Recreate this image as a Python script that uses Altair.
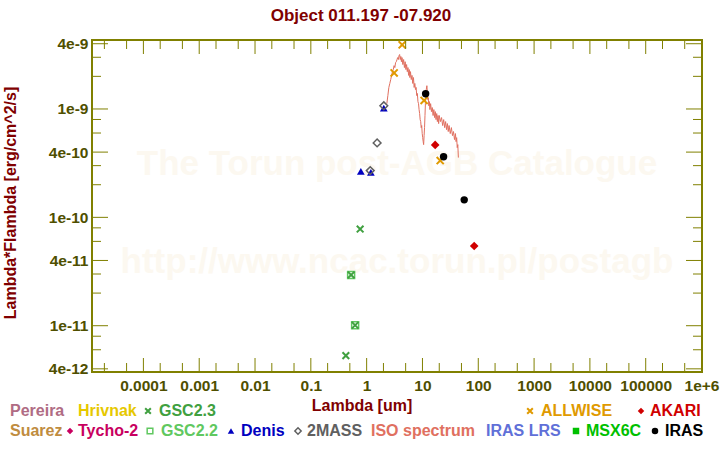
import altair as alt
import pandas as pd

# ---------------- text ----------------
title_text = "Object 011.197 -07.920"
x_title = "Lambda [um]"
y_title = "Lambda*Flambda [erg/cm^2/s]"
watermark_lines = ["The Torun post-AGB Catalogue", "http://www.ncac.torun.pl/postagb"]

# ---------------- ticks ----------------
x_tick_labels = [1e-4, 1e-3, 1e-2, 0.1, 1, 10, 100, 1000, 1e4, 1e5, 1e6]
x_minor_ticks = [2e-5, 5e-5, 2e-4, 5e-4, 2e-3, 5e-3, 2e-2, 5e-2, 0.2, 0.5, 2, 5,
                 20, 50, 200, 500, 2000, 5000, 2e4, 5e4, 2e5, 5e5]
y_tick_labels = [4e-12, 1e-11, 4e-11, 1e-10, 4e-10, 1e-9, 4e-9]
y_minor_ticks = [6e-12, 8e-12, 2e-11, 3e-11, 6e-11, 8e-11, 2e-10, 3e-10,
                 6e-10, 8e-10, 2e-9, 3e-9]

# ---------------- data ----------------
gsc23_lam = [0.424, 0.527, 0.622, 0.765]
gsc23_flux = [5.3e-12, 2.94e-11, 1.01e-11, 7.8e-11]
gsc22_lam = [0.527, 0.622]
gsc22_flux = [2.94e-11, 1.01e-11]
denis_lam = [0.787, 1.19, 2.03]
denis_flux = [2.66e-10, 2.60e-10, 1.02e-9]
twomass_lam = [1.16, 1.54, 2.03]
twomass_flux = [2.70e-10, 4.86e-10, 1.07e-9]
allwise_lam = [3.11, 4.33, 10.7, 20.8]
allwise_flux = [2.15e-9, 3.91e-9, 1.20e-9, 3.34e-10]
iras_lam = [11.4, 23.9, 56.0]
iras_flux = [1.38e-9, 3.63e-10, 1.45e-10]
akari_lam = [16.9, 84.5]
akari_flux = [4.66e-10, 5.44e-11]

iso_lam = [2.3, 2.4, 2.5, 2.6, 2.7, 2.8, 2.9, 3.0, 3.1, 3.2, 3.3, 3.4, 3.5, 3.6, 3.7,
           3.8, 3.9, 4.0, 4.1, 4.2, 4.3, 4.45, 4.6, 4.75, 4.9, 5.05, 5.2, 5.35, 5.5,
           5.65, 5.8, 5.95, 6.1, 6.3, 6.5, 6.7, 6.9, 7.1, 7.3, 7.5, 7.7, 7.9, 8.1,
           8.3, 8.5, 8.7, 8.9, 9.1, 9.3, 9.5, 9.7, 9.9, 10.1, 10.3, 10.5, 10.7, 10.9,
           11.1, 11.3, 11.5, 11.7, 12.0, 12.2, 12.5, 12.7, 13.0, 13.3, 13.6, 14.0,
           14.5, 15.0, 15.5, 16.0, 16.5, 17.0, 17.5, 18.0, 18.5, 19.0, 19.5, 20.0,
           21.0, 22.0, 23.0, 24.0, 25.0, 26.0, 27.0, 28.0, 29.0, 30.0, 31.5, 33.0,
           34.5, 36.0, 37.5, 39.0, 40.0, 41.0, 42.0, 43.0, 44.0]
iso_flux = [11.2e-10, 13.3e-10, 15.8e-10, 17.2e-10, 18.7e-10, 20.4e-10, 22.1e-10,
            23.1e-10, 25.1e-10, 24.1e-10, 26.8e-10, 27.3e-10, 28.6e-10, 29.8e-10,
            28.6e-10, 31.0e-10, 31.8e-10, 28.6e-10, 30.5e-10, 27.3e-10, 29.8e-10,
            25.7e-10, 28.6e-10, 24.1e-10, 27.3e-10, 23.1e-10, 25.7e-10, 22.1e-10,
            24.1e-10, 20.4e-10, 23.1e-10, 19.5e-10, 22.1e-10, 18.7e-10, 20.4e-10,
            17.2e-10, 19.5e-10, 15.8e-10, 17.2e-10, 15.1e-10, 15.8e-10, 13.3e-10,
            13.9e-10, 11.7e-10, 11.2e-10, 9.87e-10, 9.07e-10, 7.98e-10, 7.65e-10,
            6.73e-10, 7.03e-10, 5.93e-10, 5.44e-10, 5.00e-10, 4.69e-10, 5.68e-10,
            6.73e-10, 8.70e-10, 11.2e-10, 13.3e-10, 15.1e-10, 16.4e-10, 14.5e-10,
            12.2e-10, 12.7e-10, 10.7e-10, 11.7e-10, 9.87e-10, 11.2e-10, 9.45e-10,
            10.3e-10, 8.70e-10, 9.87e-10, 8.33e-10, 9.45e-10, 7.98e-10, 9.07e-10,
            7.65e-10, 8.70e-10, 7.33e-10, 8.70e-10, 7.65e-10, 8.33e-10, 7.03e-10,
            7.98e-10, 6.73e-10, 7.65e-10, 6.45e-10, 7.33e-10, 6.19e-10, 7.03e-10,
            5.93e-10, 6.73e-10, 5.68e-10, 6.19e-10, 5.22e-10, 5.93e-10, 5.00e-10,
            5.44e-10, 4.40e-10, 4.69e-10, 3.56e-10]

# ---------------- legend ----------------
legend_names = ["Pereira", "Hrivnak", "GSC2.3", "ALLWISE", "AKARI",
                "Suarez", "Tycho-2", "GSC2.2", "Denis", "2MASS", "ISO spectrum",
                "IRAS LRS", "MSX6C", "IRAS"]
legend_colors = ["#b06c84", "#e6c800", "#40a040", "#e09a00", "#d00000",
                 "#c08c40", "#c80060", "#60c860", "#0000c0", "#606060", "#e07060",
                 "#6070d8", "#00c000", "#000000"]
# layout (absolute px): row, left x of text, marker shape, marker x
legend_layout = [(0, 10, None, 0), (0, 78, None, 0), (0, 159, "x", 148),
                 (0, 541, "x", 530), (0, 650, "diamond", 641),
                 (1, 10, None, 0), (1, 78, "diamond", 70), (1, 161, "hsquare", 150),
                 (1, 241, "triangle-up", 231), (1, 307, "hdiamond", 298),
                 (1, 371, None, 0), (1, 486, None, 0), (1, 586, "square", 576),
                 (1, 665, "circle", 655)]

FONT = "Liberation Sans"
OLIVE = "#808000"
LABEL = "#4f4f00"
MAROON = "#800000"
W, H = 610, 332
PL, PT = 92, 40
XPATH = "M-1,-1L1,1M-1,1L1,-1"

xs = alt.Scale(type="log", domain=[1.2e-5, 1.02e6], nice=False)
ys = alt.Scale(type="log", domain=[3.74e-12, 4.33e-9], nice=False)
xaxis = alt.Axis(values=x_tick_labels,
                 labelExpr="datum.value >= 999999 ? '1e+6' : format(datum.value, '~g')",
                 title=None, grid=False, ticks=False,
                 tickSize=0, domain=False, labelFont=FONT, labelFontSize=15.5,
                 labelFontWeight="bold", labelColor=LABEL, labelPadding=6,
                 labelFlush=False, labelOverlap=False)
yaxis = alt.Axis(values=y_tick_labels, format=".0e", title=None, grid=False, ticks=False,
                 tickSize=0, domain=False, labelFont=FONT, labelFontSize=15.5,
                 labelFontWeight="bold", labelColor=LABEL, labelPadding=4,
                 labelOverlap=False)


def X():
    return alt.X("lam:Q", scale=xs, axis=xaxis)


def Y():
    return alt.Y("flux:Q", scale=ys, axis=yaxis)


def df(lam, flux):
    return pd.DataFrame({"lam": lam, "flux": flux})


one = alt.Data(values=[{}])
layers = []

# watermark
for i, (txt, yy) in enumerate(zip(watermark_lines, [124, 222])):
    layers.append(alt.Chart(one).mark_text(text=txt, font=FONT, fontSize=35, fontWeight="bold",
                                           color="#fcf8f0", align="center", baseline="middle")
                  .encode(x=alt.value(W / 2), y=alt.value(yy)))

# ISO spectrum
layers.append(alt.Chart(df(iso_lam, iso_flux)).mark_line(color="#e07060", strokeWidth=1)
              .encode(x=X(), y=Y(), order=alt.Order("lam:Q")))

# point series
layers.append(alt.Chart(df(gsc22_lam, gsc22_flux)).mark_point(shape="square", size=49, filled=False,
                                                               color="#60c860", strokeWidth=1.5, opacity=1)
              .encode(x=X(), y=Y()))
layers.append(alt.Chart(df(gsc23_lam, gsc23_flux)).mark_point(shape=XPATH, size=45, filled=False,
                                                               color="#40a040", strokeWidth=2, opacity=1)
              .encode(x=X(), y=Y()))
layers.append(alt.Chart(df(denis_lam, denis_flux)).mark_point(shape="triangle-up", size=60, filled=True,
                                                               color="#0000c0", opacity=1)
              .encode(x=X(), y=Y()))
layers.append(alt.Chart(df(twomass_lam, twomass_flux)).mark_point(shape="diamond", size=60, filled=False,
                                                                   color="#606060", strokeWidth=1.5, opacity=1)
              .encode(x=X(), y=Y()))
layers.append(alt.Chart(df(allwise_lam, allwise_flux)).mark_point(shape=XPATH, size=50, filled=False,
                                                                   color="#e09a00", strokeWidth=2, opacity=1)
              .encode(x=X(), y=Y()))
layers.append(alt.Chart(df(akari_lam, akari_flux)).mark_point(shape="diamond", size=75, filled=True,
                                                               color="#d00000", opacity=1)
              .encode(x=X(), y=Y()))
layers.append(alt.Chart(df(iras_lam, iras_flux)).mark_point(shape="circle", size=55, filled=True,
                                                             color="#000000", opacity=1)
              .encode(x=X(), y=Y()))

# inward ticks
xmaj = pd.DataFrame({"lam": x_tick_labels})
xmin = pd.DataFrame({"lam": x_minor_ticks})
ymaj = pd.DataFrame({"flux": y_tick_labels})
ymin = pd.DataFrame({"flux": y_minor_ticks})
rule = dict(color=OLIVE, strokeWidth=1)
layers.append(alt.Chart(xmaj).mark_rule(**rule).encode(x=X(), y=alt.value(H), y2=alt.value(H - 14)))
layers.append(alt.Chart(xmin).mark_rule(**rule).encode(x=X(), y=alt.value(H), y2=alt.value(H - 9)))
layers.append(alt.Chart(xmaj).mark_rule(**rule).encode(x=X(), y=alt.value(0), y2=alt.value(14)))
layers.append(alt.Chart(xmin).mark_rule(**rule).encode(x=X(), y=alt.value(0), y2=alt.value(9)))
layers.append(alt.Chart(ymaj).mark_rule(**rule).encode(y=Y(), x=alt.value(0), x2=alt.value(16)))
layers.append(alt.Chart(ymin).mark_rule(**rule).encode(y=Y(), x=alt.value(0), x2=alt.value(9)))
layers.append(alt.Chart(ymaj).mark_rule(**rule).encode(y=Y(), x=alt.value(W), x2=alt.value(W - 16)))
layers.append(alt.Chart(ymin).mark_rule(**rule).encode(y=Y(), x=alt.value(W), x2=alt.value(W - 9)))

# titles
txt_style = dict(font=FONT, fontWeight="bold", color=MAROON)
layers.append(alt.Chart(one).mark_text(text=title_text, fontSize=17, align="center", baseline="middle", **txt_style)
              .encode(x=alt.value(361 - PL), y=alt.value(16 - PT)))
layers.append(alt.Chart(one).mark_text(text=x_title, fontSize=16, align="center", baseline="middle", **txt_style)
              .encode(x=alt.value(362 - PL), y=alt.value(406 - PT)))
layers.append(alt.Chart(one).mark_text(text=y_title, fontSize=16, align="center", baseline="middle",
                                       angle=270, **txt_style)
              .encode(x=alt.value(11 - PL), y=alt.value(203 - PT)))

# legend
row_y = [411, 431]
for name, col, (row, tx, shp, mx) in zip(legend_names, legend_colors, legend_layout):
    yy = row_y[row] - PT
    layers.append(alt.Chart(one).mark_text(text=name, font=FONT, fontSize=16, fontWeight="bold",
                                           color=col, align="left", baseline="middle")
                  .encode(x=alt.value(tx - PL), y=alt.value(yy)))
    if shp is None:
        continue
    if shp == "x":
        m = dict(shape=XPATH, size=32, filled=False, strokeWidth=2)
    elif shp == "hsquare":
        m = dict(shape="square", size=32, filled=False, strokeWidth=1.5)
    elif shp == "hdiamond":
        m = dict(shape="diamond", size=40, filled=False, strokeWidth=1.5)
    else:
        m = dict(shape=shp, size=42, filled=True)
    layers.append(alt.Chart(one).mark_point(color=col, opacity=1, **m)
                  .encode(x=alt.value(mx - PL), y=alt.value(yy)))

chart = alt.layer(*layers).properties(
    width=W, height=H,
    padding={"left": PL, "top": PT, "right": 720 - PL - W, "bottom": 450 - PT - H},
    autosize=alt.AutoSizeParams(type="none"),
    background="white",
).configure_view(stroke=OLIVE, strokeWidth=2)

chart.save("out.html", embed_options={"renderer": "svg", "actions": False})
